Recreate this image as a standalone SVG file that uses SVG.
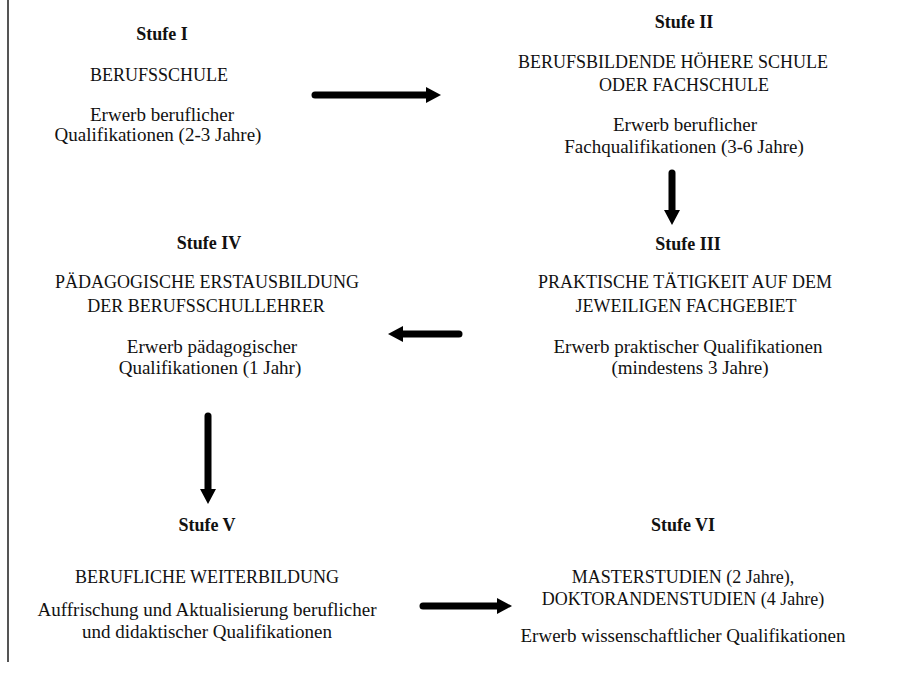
<svg xmlns="http://www.w3.org/2000/svg" width="924" height="675" viewBox="0 0 924 675">
<style>
text{font-family:"Liberation Serif","Times New Roman",serif;fill:#111;text-anchor:middle}
.h{font-weight:bold;font-size:18px}
.c{font-size:18px}
.l{font-size:19px}
.arr{stroke:#000;stroke-width:7;stroke-linecap:round;fill:none;marker-end:url(#head)}
</style>
<defs>
<marker id="head" markerUnits="userSpaceOnUse" markerWidth="18" markerHeight="18" refX="0" refY="8" orient="auto">
<path d="M0,0 L15,8 L0,16 Z" fill="#000"/>
</marker>
</defs>
<rect width="924" height="675" fill="#fff"/>
<line x1="8" y1="0" x2="8" y2="662" stroke="#555" stroke-width="2"/>
<g id="stufe1">
<text class="h" x="162" y="40">Stufe I</text>
<text class="c" x="159" y="81">BERUFSSCHULE</text>
<text class="l" x="162" y="121">Erwerb beruflicher</text>
<text class="l" x="158" y="141">Qualifikationen (2-3 Jahre)</text>
</g>
<g id="stufe2">
<text class="h" x="684" y="28">Stufe II</text>
<text class="c" x="673" y="68">BERUFSBILDENDE HÖHERE SCHULE</text>
<text class="c" x="684" y="91">ODER FACHSCHULE</text>
<text class="l" x="685" y="131">Erwerb beruflicher</text>
<text class="l" x="684" y="153">Fachqualifikationen (3-6 Jahre)</text>
</g>
<g id="stufe3">
<text class="h" x="688" y="250">Stufe III</text>
<text class="c" x="685" y="288">PRAKTISCHE TÄTIGKEIT AUF DEM</text>
<text class="c" x="686" y="312">JEWEILIGEN FACHGEBIET</text>
<text class="l" x="688" y="353">Erwerb praktischer Qualifikationen</text>
<text class="l" x="690" y="374">(mindestens 3 Jahre)</text>
</g>
<g id="stufe4">
<text class="h" x="209" y="249">Stufe IV</text>
<text class="c" x="207" y="288">PÄDAGOGISCHE ERSTAUSBILDUNG</text>
<text class="c" x="206" y="312">DER BERUFSSCHULLEHRER</text>
<text class="l" x="212" y="353">Erwerb pädagogischer</text>
<text class="l" x="210" y="374">Qualifikationen (1 Jahr)</text>
</g>
<g id="stufe5">
<text class="h" x="207" y="531">Stufe V</text>
<text class="c" x="207" y="583">BERUFLICHE WEITERBILDUNG</text>
<text class="l" x="207" y="616">Auffrischung und Aktualisierung beruflicher</text>
<text class="l" x="207" y="638">und didaktischer Qualifikationen</text>
</g>
<g id="stufe6">
<text class="h" x="683" y="531">Stufe VI</text>
<text class="c" x="683" y="583">MASTERSTUDIEN (2 Jahre),</text>
<text class="c" x="683" y="605">DOKTORANDENSTUDIEN (4 Jahre)</text>
<text class="l" x="683" y="642">Erwerb wissenschaftlicher Qualifikationen</text>
</g>
<g id="connectors">
<line class="arr" x1="315" y1="95" x2="426" y2="95"/>
<line class="arr" x1="672" y1="173" x2="672" y2="210"/>
<line class="arr" x1="459" y1="334" x2="403" y2="334"/>
<line class="arr" x1="208" y1="416" x2="208" y2="489"/>
<line class="arr" x1="423" y1="606" x2="497" y2="606"/>
</g>
</svg>
